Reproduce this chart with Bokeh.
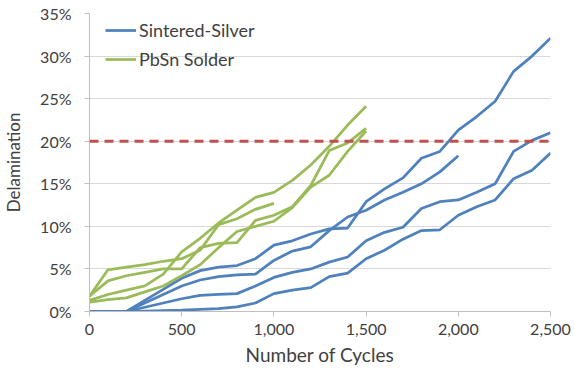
from bokeh.plotting import figure
from bokeh.models import (Range1d, FixedTicker, PrintfTickFormatter, NumeralTickFormatter,
                          Legend, LegendItem, Span)
from bokeh.embed import file_html
from bokeh.resources import INLINE

# Thermal-cycling delamination data (percent of bonded area), sampled every 100 cycles
cycles_silver = list(range(0, 2600, 100))
cycles_silver_short = list(range(0, 2100, 100))
cycles_solder = list(range(0, 1600, 100))
cycles_solder_short = list(range(0, 1100, 100))

silver_1 = [0, 0, 0, 1.3, 2.6, 3.9, 4.8, 5.2, 5.4, 6.2, 7.8, 8.3, 9.1, 9.7, 9.8,
            12.9, 14.4, 15.7, 18.0, 18.8, 21.3, 22.9, 24.7, 28.2, 30.0, 32.1]
silver_2 = [0, 0, 0, 1.0, 2.0, 3.0, 3.7, 4.1, 4.3, 4.4, 6.0, 7.1, 7.6, 9.5, 11.1,
            11.9, 13.1, 14.0, 15.0, 16.4, 18.3]
silver_3 = [0, 0, 0, 0.5, 1.0, 1.5, 1.9, 2.0, 2.1, 3.0, 4.0, 4.6, 5.0, 5.8, 6.4,
            8.3, 9.3, 9.9, 12.1, 12.9, 13.1, 14.0, 15.0, 18.8, 20.1, 21.0]
silver_4 = [0, 0, 0, 0.05, 0.1, 0.15, 0.25, 0.35, 0.55, 1.0, 2.1, 2.5, 2.8, 4.1, 4.5,
            6.2, 7.2, 8.5, 9.5, 9.6, 11.3, 12.3, 13.1, 15.6, 16.6, 18.6]

solder_1 = [1.8, 4.9, 5.2, 5.5, 5.9, 6.2, 7.2, 10.2, 10.9, 12.0, 12.7]
solder_2 = [1.3, 2.0, 2.5, 3.0, 4.4, 7.0, 8.6, 10.4, 11.9, 13.4, 14.0, 15.4, 17.2, 19.4, 21.9, 24.1]
solder_3 = [1.8, 3.6, 4.2, 4.6, 5.0, 5.0, 7.5, 8.0, 8.1, 10.7, 11.3, 12.3, 14.8, 18.9, 19.8, 21.5]
solder_4 = [1.1, 1.4, 1.6, 2.3, 3.0, 4.2, 5.5, 7.5, 9.4, 10.0, 10.6, 12.2, 14.6, 16.0, 18.8, 21.2]

threshold = 20
y_ticks = [0, 5, 10, 15, 20, 25, 30, 35]
x_ticks = [0, 500, 1000, 1500, 2000, 2500]

BLUE = "#4f81bd"
GREEN = "#9bbb59"
RED = "#c0504d"
TEXT = "#404040"
FONT = "Lato"

p = figure(width=574, height=377, output_backend="svg", toolbar_location=None,
           x_range=Range1d(0, 2500), y_range=Range1d(0, 35),
           min_border_left=89, min_border_right=24, min_border_top=13, min_border_bottom=66)
p.outline_line_color = None
p.background_fill_color = "white"
p.border_fill_color = "white"

# grid: horizontal only
p.xgrid.grid_line_color = None
p.ygrid.grid_line_color = "#d9d9d9"
p.ygrid.grid_line_width = 1

p.yaxis.ticker = FixedTicker(ticks=y_ticks)
p.yaxis.formatter = PrintfTickFormatter(format="%d%%")
p.xaxis.ticker = FixedTicker(ticks=x_ticks)
p.xaxis.formatter = NumeralTickFormatter(format="0,0")

for ax in (p.xaxis[0], p.yaxis[0]):
    ax.axis_line_color = "#bfbfbf"
    ax.major_tick_line_color = "#bfbfbf"
    ax.minor_tick_line_color = None
    ax.major_tick_in = 0
    ax.major_tick_out = 5
    ax.major_label_text_font = FONT
    ax.major_label_text_font_size = "16px"
    ax.major_label_text_color = TEXT
    ax.axis_label_text_font = FONT
    ax.axis_label_text_font_style = "normal"
    ax.axis_label_text_color = TEXT

p.xaxis.axis_label = "Number of Cycles"
p.yaxis.axis_label = "Delamination"
p.xaxis.axis_label_text_font_size = "19px"
p.yaxis.axis_label_text_font_size = "17px"
p.xaxis.major_label_standoff = 7
p.yaxis.major_label_standoff = 13
p.xaxis.axis_label_standoff = 5
p.yaxis.axis_label_standoff = 13

blue_lines = []
for xs, ys in [(cycles_silver, silver_1), (cycles_silver_short, silver_2),
               (cycles_silver, silver_3), (cycles_silver, silver_4)]:
    blue_lines.append(p.line(xs, ys, line_color=BLUE, line_width=2.75))

green_lines = []
for xs, ys in [(cycles_solder_short, solder_1), (cycles_solder, solder_2),
               (cycles_solder, solder_3), (cycles_solder, solder_4)]:
    green_lines.append(p.line(xs, ys, line_color=GREEN, line_width=2.75))

p.add_layout(Span(location=threshold, dimension="width", line_color=RED,
                  line_width=3, line_dash="9 6"))

legend = Legend(items=[LegendItem(label="Sintered-Silver", renderers=[blue_lines[0]]),
                       LegendItem(label="PbSn Solder", renderers=[green_lines[0]])],
                location=(16, 241), border_line_color=None, background_fill_alpha=0,
                padding=9, margin=0, spacing=7, glyph_width=31, glyph_height=20,
                label_height=20, label_standoff=3,
                label_text_font=FONT, label_text_font_size="18px", label_text_color=TEXT)
p.add_layout(legend)

open("out.html", "w").write(file_html(p, INLINE))
